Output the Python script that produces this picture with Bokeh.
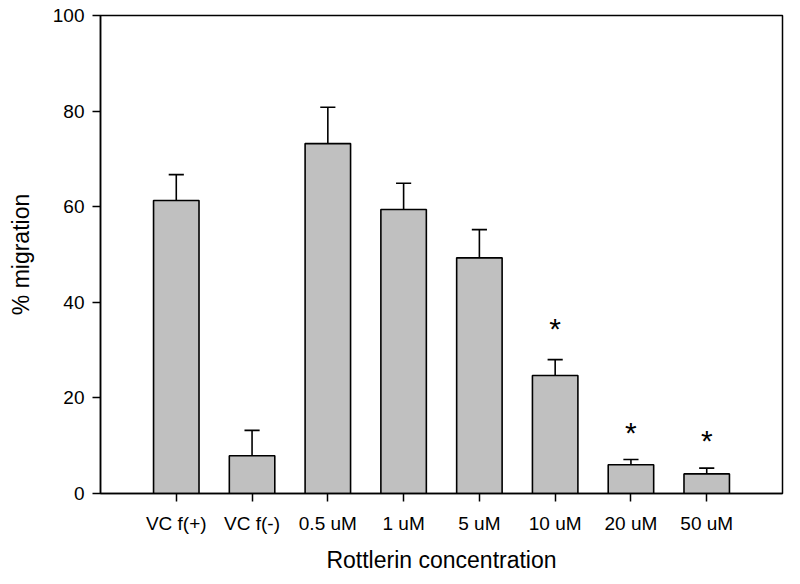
from bokeh.plotting import figure
from bokeh.models import FactorRange, Range1d, FixedTicker, ColumnDataSource
from bokeh.core.properties import value
from bokeh.embed import file_html
from bokeh.resources import INLINE

categories = ["VC f(+)", "VC f(-)", "0.5 uM", "1 uM", "5 uM", "10 uM", "20 uM", "50 uM"]
means = [61.3, 7.9, 73.2, 59.4, 49.3, 24.7, 6.0, 4.1]
upper = [66.7, 13.2, 80.8, 64.9, 55.2, 28.0, 7.1, 5.3]
sig_categories = ["10 uM", "20 uM", "50 uM"]
sig_y = [35.8, 14.0, 12.3]
y_ticks = [0, 20, 40, 60, 80, 100]

FONT = "Liberation Sans"

p = figure(
    width=792, height=576,
    x_range=FactorRange(factors=categories, range_padding=0.5, range_padding_units="absolute"),
    y_range=Range1d(0, 100),
    output_backend="svg", toolbar_location=None,
    min_border_left=100, min_border_right=10, min_border_top=15, min_border_bottom=83,
)

src = ColumnDataSource(dict(x=categories, top=means, up=upper))

p.segment(x0="x", y0="top", x1="x", y1="up", source=src, line_color="black", line_width=1.6)
p.vbar(x="x", top="top", bottom=0, width=0.6, source=src,
       fill_color="#c0c0c0", line_color="black", line_width=1.6)

cap_left = [(c, -0.1) for c in categories]
cap_right = [(c, 0.1) for c in categories]
p.segment(x0=cap_left, y0=upper, x1=cap_right, y1=upper, line_color="black", line_width=1.6)

p.text(x=sig_categories, y=sig_y, text=["*"] * len(sig_y),
       text_align="center", text_baseline="middle",
       text_font=value(FONT), text_font_size="30px", text_color="black",
       y_offset=6)

p.xgrid.visible = False
p.ygrid.visible = False
p.outline_line_color = "black"
p.outline_line_width = 1.5
p.outline_line_alpha = 1.0

p.yaxis.ticker = FixedTicker(ticks=y_ticks)
p.yaxis.minor_tick_line_color = None

for ax in (p.xaxis, p.yaxis):
    ax.axis_line_color = "black"
    ax.axis_line_width = 1.5
    ax.major_tick_line_color = "black"
    ax.major_tick_line_width = 1.5
    ax.major_tick_in = 0
    ax.major_tick_out = 8
    ax.major_label_text_font = FONT
    ax.major_label_text_font_size = "19px"
    ax.major_label_text_color = "black"
    ax.axis_label_text_font = FONT
    ax.axis_label_text_font_size = "23px"
    ax.axis_label_text_font_style = "normal"
    ax.axis_label_text_color = "black"

p.xaxis.axis_label = "Rottlerin concentration"
p.yaxis.axis_label = "% migration"
p.xaxis.major_label_standoff = 11
p.xaxis.axis_label_standoff = 10
p.yaxis.major_label_standoff = 8
p.yaxis.axis_label_standoff = 16

open("out.html", "w").write(file_html(p, INLINE))
